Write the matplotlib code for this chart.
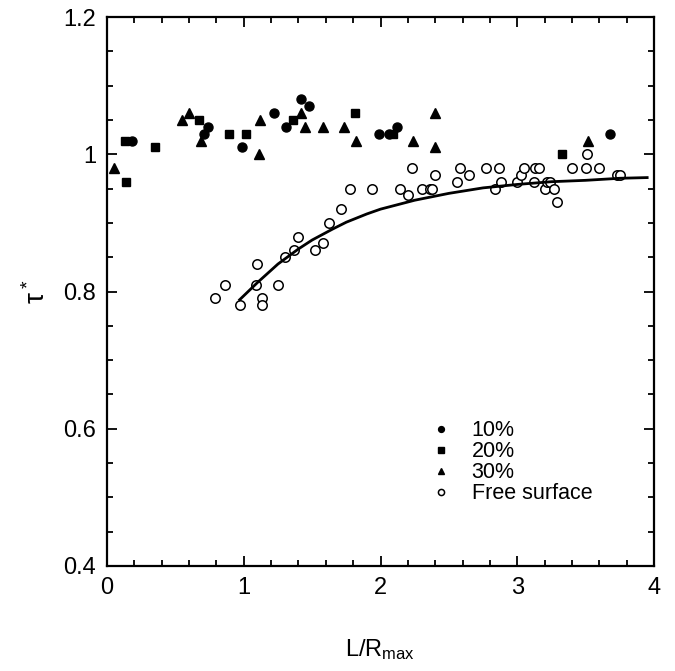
import matplotlib
matplotlib.use("Agg")
import matplotlib.pyplot as plt
from matplotlib.ticker import MultipleLocator

plt.rcParams['font.family'] = ['Liberation Sans', 'DejaVu Sans']
plt.rcParams['mathtext.fontset'] = 'custom'
plt.rcParams['mathtext.rm'] = 'Liberation Sans'
plt.rcParams['mathtext.it'] = 'Liberation Sans'

# 10% series (filled circles)
x10 = [0.18, 0.71, 0.74, 0.99, 1.22, 1.31, 1.42, 1.48, 1.99, 2.06, 2.12, 3.68]
y10 = [1.02, 1.03, 1.04, 1.01, 1.06, 1.04, 1.08, 1.07, 1.03, 1.03, 1.04, 1.03]
# 20% series (filled squares)
x20 = [0.13, 0.14, 0.35, 0.67, 0.89, 1.02, 1.36, 1.81, 2.09, 3.33]
y20 = [1.02, 0.96, 1.01, 1.05, 1.03, 1.03, 1.05, 1.06, 1.03, 1.00]
# 30% series (filled triangles)
x30 = [0.05, 0.55, 0.60, 0.69, 1.11, 1.12, 1.42, 1.45, 1.58, 1.73, 1.82,
       2.24, 2.40, 2.40, 3.52]
y30 = [0.98, 1.05, 1.06, 1.02, 1.00, 1.05, 1.06, 1.04, 1.04, 1.04, 1.02,
       1.02, 1.06, 1.01, 1.02]
# Free surface (open circles)
xfs = [0.79, 0.86, 0.97, 1.09, 1.10, 1.13, 1.13, 1.25, 1.30, 1.37, 1.40,
       1.52, 1.58, 1.62, 1.71, 1.78, 1.94, 2.14, 2.20, 2.23, 2.30, 2.36,
       2.38, 2.40, 2.56, 2.58, 2.65, 2.77, 2.84, 2.87, 2.88, 3.00, 3.03,
       3.05, 3.12, 3.13, 3.16, 3.20, 3.22, 3.24, 3.27, 3.29, 3.40, 3.50,
       3.51, 3.60, 3.73, 3.75]
yfs = [0.79, 0.81, 0.78, 0.81, 0.84, 0.79, 0.78, 0.81, 0.85, 0.86, 0.88,
       0.86, 0.87, 0.90, 0.92, 0.95, 0.95, 0.95, 0.94, 0.98, 0.95, 0.95,
       0.95, 0.97, 0.96, 0.98, 0.97, 0.98, 0.95, 0.98, 0.96, 0.96, 0.97,
       0.98, 0.96, 0.98, 0.98, 0.95, 0.96, 0.96, 0.95, 0.93, 0.98, 0.98,
       1.00, 0.98, 0.97, 0.97]
# Fitted curve
xc = [0.97, 1.10, 1.25, 1.40, 1.50, 1.65, 1.75, 1.90, 2.00, 2.25, 2.50,
      2.75, 3.00, 3.25, 3.50, 3.75, 3.95]
yc = [0.788, 0.813, 0.840, 0.862, 0.875, 0.891, 0.901, 0.913, 0.920, 0.933,
      0.943, 0.951, 0.956, 0.960, 0.962, 0.965, 0.966]

xticks = [0, 1, 2, 3, 4]
xticklabels = ['0', '1', '2', '3', '4']
yticks = [0.4, 0.6, 0.8, 1.0, 1.2]
yticklabels = ['0.4', '0.6', '0.8', '1', '1.2']

fig = plt.figure(figsize=(6.75, 6.71), dpi=100)
ax = fig.add_axes([107/675, 1 - 566/671, (654-107)/675, (566-17)/671])

ms = 6.5
ax.plot(x10, y10, 'o', color='black', ms=ms, label='10%')
ax.plot(x20, y20, 's', color='black', ms=ms - 0.3, label='20%')
ax.plot(x30, y30, '^', color='black', ms=ms, label='30%')
ax.plot(xfs, yfs, 'o', mfc='white', mec='black', mew=1.1, ms=ms + 0.3,
        label='Free surface')
ax.plot(xc, yc, '-', color='black', lw=2.0)

ax.set_xlim(0, 4)
ax.set_ylim(0.4, 1.2)
ax.set_xticks(xticks)
ax.set_xticklabels(xticklabels)
ax.set_yticks(yticks)
ax.set_yticklabels(yticklabels)
ax.xaxis.set_minor_locator(MultipleLocator(0.2))
ax.yaxis.set_minor_locator(MultipleLocator(0.05))

ax.tick_params(which='both', direction='in', top=True, right=True,
               labelsize=17, width=1.3)
ax.tick_params(which='major', length=7, pad=8)
ax.tick_params(which='minor', length=4)
for s in ax.spines.values():
    s.set_linewidth(1.6)

ax.set_xlabel(r'L/R$_\mathregular{max}$', fontsize=17, labelpad=27)
ax.set_ylabel(r'$\tau^*$', fontsize=20, labelpad=9)

leg = ax.legend(loc='upper left', bbox_to_anchor=(0.58, 0.285), frameon=False,
                fontsize=15.5, handlelength=0.6, handletextpad=1.1,
                labelspacing=0.0, markerscale=0.65, borderpad=0)

fig.savefig('out.png', dpi=100)
